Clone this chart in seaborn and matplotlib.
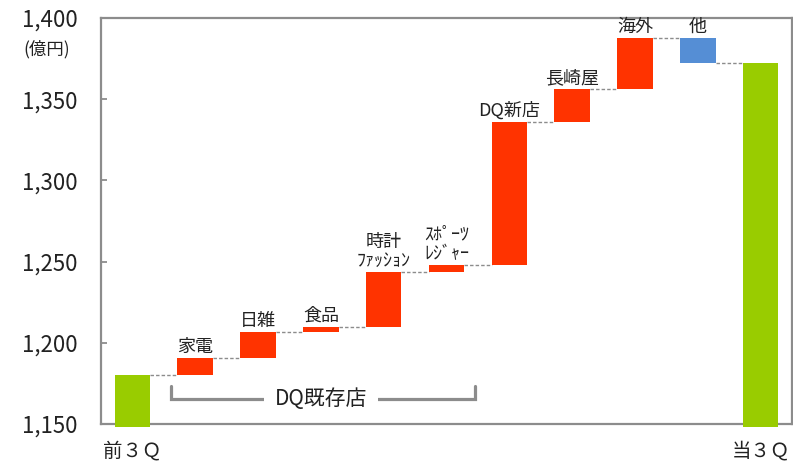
import numpy as np
import pandas as pd
import matplotlib
matplotlib.use('Agg')
import matplotlib.pyplot as plt
import seaborn as sns
from matplotlib.ticker import FuncFormatter

# ---------------- data ----------------
categories = ['前3Q', '家電', '日雑', '食品', '時計ファッション', 'スポーツレジャー',
              'DQ新店', '長崎屋', '海外', '他', '当3Q']
bar_labels = ['', '家電', '日雑', '食品', '時計\nﾌｧｯｼｮﾝ', 'ｽﾎﾟｰﾂ\nﾚｼﾞｬｰ',
              'DQ新店', '長崎屋', '海外', '他', '']
tick_labels = ['前３Ｑ', '', '', '', '', '', '', '', '', '', '当３Ｑ']
start_total = 1180.0
changes = [10.7, 16.1, 3.2, 33.4, 4.6, 88.0, 20.0, 31.7, -15.7]
end_total = 1372.0
group_label = 'DQ既存店'
unit_label = '(億円)'
y_min, y_max = 1150, 1400

# ---------------- style ----------------
sns.set_style('white')
plt.rcParams['font.family'] = ['Noto Sans CJK JP', 'DejaVu Sans']

GREEN = '#99CC00'
RED = '#FF3300'
BLUE = '#558ED5'
GRAY = '#8C8C8C'

levels = start_total + np.cumsum(changes)
base = y_min - 1.8
bottoms = [base] + [start_total] + list(levels[:-1]) + [base]
heights = [start_total - base] + changes + [end_total - base]
colors = [GREEN] + [RED if c >= 0 else BLUE for c in changes] + [GREEN]

df = pd.DataFrame({'cat': categories, 'h': heights})

fig = plt.figure(figsize=(7.93, 4.61), dpi=100)
ax = fig.add_axes([101 / 793, 37 / 461, 691 / 793, 406 / 461])

bw = 0.565
sns.barplot(data=df, x='cat', y='h', bottom=bottoms, width=bw, ax=ax,
            color=GREEN, linewidth=0, clip_on=False, zorder=3)
for p, c in zip(ax.patches, colors):
    p.set_facecolor(c)
    p.set_edgecolor('none')

# connectors
tops_after = [start_total] + list(levels)
for i in range(len(categories) - 1):
    lvl = tops_after[i]
    ax.plot([i + bw / 2, i + 1 - bw / 2], [lvl, lvl], color='#8C8C8C',
            lw=1.0, ls=(0, (2.5, 1.5)), zorder=2)

# bar labels
for i, lab in enumerate(bar_labels):
    if not lab:
        continue
    top = max(bottoms[i], bottoms[i] + heights[i])
    ax.annotate(lab, (i, top), xytext=(0, 1.5), textcoords='offset points',
                ha='center', va='bottom', fontsize=13, linespacing=1.1,
                color='#222222', zorder=5)

# bracket for DQ existing stores
ax.plot([0.62, 0.62, 5.45, 5.45], [1173.5, 1165.1, 1165.1, 1173.5],
        color=GRAY, lw=2.3, solid_joinstyle='miter', zorder=2)
ax.text(3.0, 1165.6, group_label, ha='center', va='center', fontsize=15,
        color='#222222', zorder=4,
        bbox=dict(facecolor='white', edgecolor='none', boxstyle='square,pad=0.5'))

# axes
ax.set_ylim(y_min, y_max)
ax.set_xlim(-0.5, len(categories) - 0.5)
ax.yaxis.set_major_formatter(FuncFormatter(lambda v, p: f'{v:,.0f}'))
ax.set_yticks(np.arange(y_min, y_max + 1, 50))
ax.set_xticks(range(len(categories)))
ax.set_xticklabels(tick_labels)
ax.set_xlabel('')
ax.set_ylabel('')
ax.tick_params(axis='y', direction='in', length=4.5, width=1.3, color=GRAY,
               labelsize=16, pad=17, labelcolor='#222222', left=True)
ax.tick_params(axis='x', length=0, labelsize=14, pad=12, labelcolor='#222222')
for s in ax.spines.values():
    s.set_color(GRAY)
    s.set_linewidth(1.6)
    s.set_visible(True)

fig.text(47 / 793, 1 - 49 / 461, unit_label, ha='center', va='center',
         fontsize=12.5, color='#222222')

fig.savefig('out.png', dpi=100)
